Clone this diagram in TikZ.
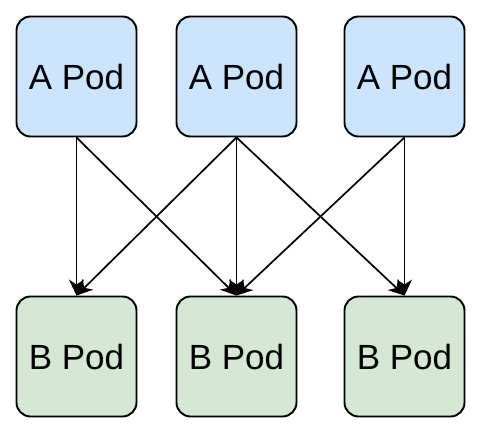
\documentclass[tikz,border=0pt]{standalone}
\usepackage{fontspec}
\setmainfont{Liberation Sans}
\usetikzlibrary{arrows.meta}
\definecolor{apod}{HTML}{CCE5FF}
\definecolor{bpod}{HTML}{D5E8D4}
\tikzset{
  podbox/.style={draw=black, line width=1.9pt, rounded corners=14pt, minimum width=120pt, minimum height=120pt, inner sep=0pt, font=\fontsize{35pt}{40pt}\selectfont},
  apodbox/.style={podbox, fill=apod},
  bpodbox/.style={podbox, fill=bpod},
  link/.style={draw=black, line width=1.7pt, -{Stealth[length=16pt,width=15pt,inset=5pt]}}
}
\begin{document}
\begin{tikzpicture}[x=1pt,y=-1pt]
\useasboundingbox (0,0) rectangle (482,434);
\node[apodbox] (a1) at (76.5,76.5) {A Pod};
\node[apodbox] (a2) at (236.5,76.5) {A Pod};
\node[apodbox] (a3) at (404.5,76.5) {A Pod};
\node[bpodbox] (b1) at (76.5,356.5) {B Pod};
\node[bpodbox] (b2) at (236.5,356.5) {B Pod};
\node[bpodbox] (b3) at (404.5,356.5) {B Pod};
\draw[link] (a1.south) -- (b1.north);
\draw[link] (a1.south) -- (b2.north);
\draw[link] (a2.south) -- (b1.north);
\draw[link] (a2.south) -- (b2.north);
\draw[link] (a2.south) -- (b3.north);
\draw[link] (a3.south) -- (b2.north);
\draw[link] (a3.south) -- (b3.north);
\end{tikzpicture}
\end{document}
